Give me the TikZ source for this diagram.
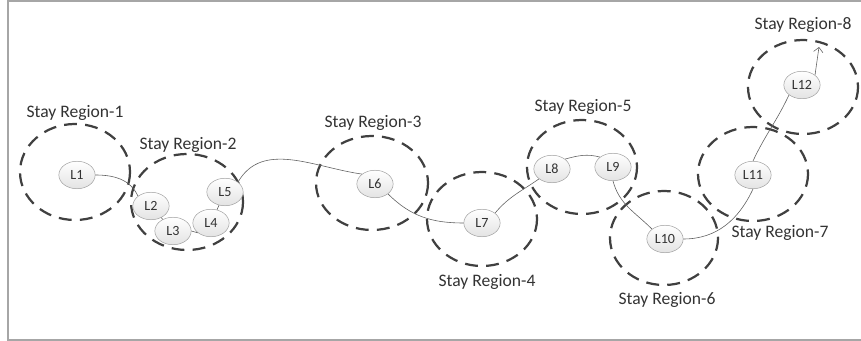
\documentclass[tikz,border=0pt]{standalone}
\usepackage{fontspec}
\setmainfont{Carlito}
\usepackage{tikz}
\usetikzlibrary{positioning,arrows.meta,shapes.geometric}

\begin{document}
\begin{tikzpicture}[
    x=0.03cm, y=-0.03cm,
    every node/.style={font=\fontsize{15}{17}\selectfont, text=black!80},
    loc/.style={draw=gray!80, top color=white, bottom color=gray!22, ellipse,
                inner sep=0.5pt, minimum width=31pt, minimum height=23.5pt,
                font=\fontsize{12}{13}\selectfont},
    region/.style={draw=black!75, line width=1.9pt, dash pattern=on 11pt off 7pt},
    track/.style={draw=gray!75!black, line width=0.5pt},
]
\useasboundingbox (0,0) rectangle (861,341);

% Frame
\draw[gray!70, line width=1.2pt] (861,1) -- (8,1) -- (8,340) -- (861,340);

% Stay regions
\draw[region] (75,172) ellipse [x radius=55, y radius=48];
\draw[region] (187,202) ellipse [x radius=56, y radius=48];
\draw[region] (372,183) ellipse [x radius=56, y radius=47];
\draw[region] (482,219) ellipse [x radius=55, y radius=47];
\draw[region] (582,167) ellipse [x radius=55, y radius=47];
\draw[region] (664,238) ellipse [x radius=54, y radius=47];
\draw[region] (753,174) ellipse [x radius=55, y radius=47];
\draw[region] (803,87) ellipse [x radius=55, y radius=47];

% Region labels
\node (sr1) at (75,113) {Stay Region-1};
\node (sr2) at (188,145) {Stay Region-2};
\node (sr3) at (373,123) {Stay Region-3};
\node (sr4) at (487,282) {Stay Region-4};
\node (sr5) at (583,107) {Stay Region-5};
\node (sr6) at (667,300) {Stay Region-6};
\node (sr7) at (780,233) {Stay Region-7};
\node (sr8) at (803,25) {Stay Region-8};

% Locations
\node[loc] (L1) at (77,175) {L1};
\node[loc] (L2) at (151,206) {L2};
\node[loc] (L3) at (173,231) {L3};
\node[loc] (L4) at (211,223) {L4};
\node[loc] (L5) at (225,192) {L5};
\node[loc] (L6) at (375,184) {L6};
\node[loc] (L7) at (482,223) {L7};
\node[loc] (L8) at (552,169) {L8};
\node[loc] (L9) at (613,167) {L9};
\node[loc] (L10) at (665,239) {L10};
\node[loc] (L11) at (753,175) {L11};
\node[loc] (L12) at (802,85) {L12};
\coordinate (goal) at (819,47);

% Trajectory
\draw[track] (L1.east) to[out=0,in=115] (L2.north west);
\draw[track] (L2) -- (L3);
\draw[track] (L3.east) -- (L4.south west);
\draw[track] (L4) -- (L5);
\draw[track] (L5.north east) to[out=60,in=172] (L6.north west);
\draw[track] (L6.south east) to[out=-45,in=180] (L7.west);
\draw[track] (L7.north east) to[out=50,in=-145] (L8.south west);
\draw[track] (L8.north east) to[out=15,in=165] (L9.north west);
\draw[track] (L9.south) to[out=-75,in=135] (L10.north west);
\draw[track] (L10.east) to[out=0,in=-115] (L11.south);
\draw[track] (L11.north) to[out=65,in=-115] (L12.south west);
\draw[track, -{Straight Barb[length=4pt]}] (L12.north east) -- (goal);

\end{tikzpicture}
\end{document}
